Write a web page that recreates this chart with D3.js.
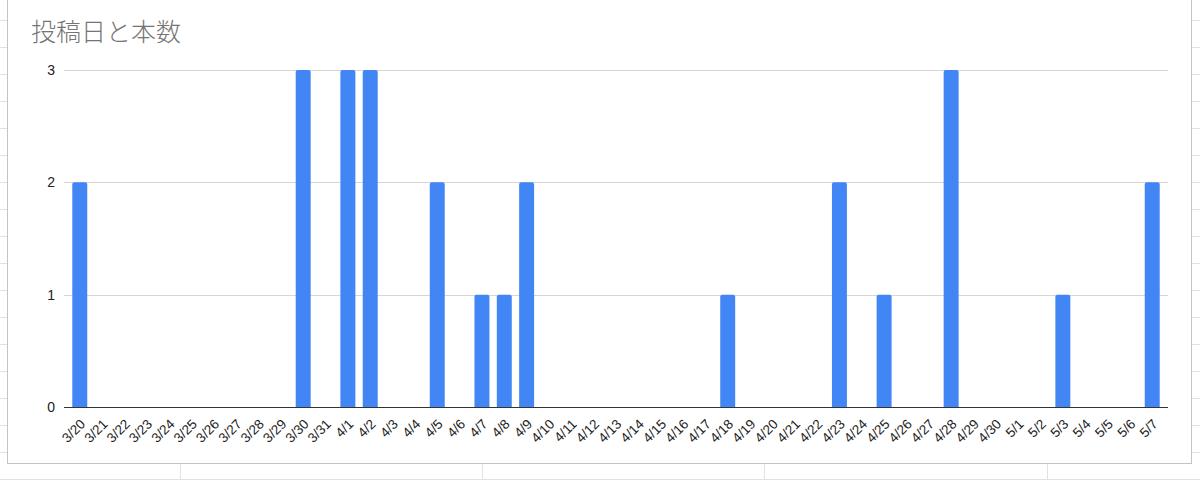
<!DOCTYPE html>
<html>
<head>
<meta charset="utf-8">
<script src="https://cdn.jsdelivr.net/npm/d3@7"></script>
<style>
  html, body { margin: 0; padding: 0; background: #fff; }
  svg { display: block; }
</style>
</head>
<body>
<svg id="chart" width="1200" height="480"></svg>
<script>
const title = "投稿日と本数";
const categories = ["3/20","3/21","3/22","3/23","3/24","3/25","3/26","3/27","3/28","3/29","3/30","3/31",
  "4/1","4/2","4/3","4/4","4/5","4/6","4/7","4/8","4/9","4/10","4/11","4/12","4/13","4/14","4/15","4/16",
  "4/17","4/18","4/19","4/20","4/21","4/22","4/23","4/24","4/25","4/26","4/27","4/28","4/29","4/30",
  "5/1","5/2","5/3","5/4","5/5","5/6","5/7"];
const counts = [2,0,0,0,0,0,0,0,0,0,3,0,
  3,3,0,0,2,0,1,1,2,0,0,0,0,0,0,0,
  0,1,0,0,0,0,2,0,1,0,0,3,0,0,
  0,0,1,0,0,0,2];
const yTicks = [0,1,2,3];

const svg = d3.select("#chart");
const W = 1200, H = 480;

// spreadsheet background grid
const sheet = svg.append("g");
const rowYs = d3.range(20, 480, 27);
sheet.selectAll("line.row").data(rowYs).join("line")
  .attr("x1", 0).attr("x2", W).attr("y1", d => d + 0.5).attr("y2", d => d + 0.5)
  .attr("stroke", "#e2e2e2").attr("stroke-width", 1);
const colXs = [180, 482, 764, 1047];
sheet.selectAll("line.col").data(colXs).join("line")
  .attr("x1", d => d + 0.5).attr("x2", d => d + 0.5).attr("y1", 0).attr("y2", H)
  .attr("stroke", "#e2e2e2").attr("stroke-width", 1);

// chart frame
svg.append("rect")
  .attr("x", 7.5).attr("y", -5).attr("width", 1184).attr("height", 468.5)
  .attr("fill", "#fff").attr("stroke", "#c4c4c4").attr("stroke-width", 1);

// title
svg.append("text")
  .attr("x", 31).attr("y", 41)
  .attr("font-family", "'Noto Sans CJK JP', sans-serif")
  .attr("font-size", 25)
  .attr("font-weight", 300)
  .attr("fill", "#757575")
  .text(title);

const x = d3.scaleBand().domain(categories).range([68.6, 1163.4]).paddingInner(0.33).paddingOuter(0.165);
const y = d3.scaleLinear().domain([0, 3]).range([407, 70]);

// gridlines
svg.append("g").selectAll("line").data(yTicks.filter(d => d > 0)).join("line")
  .attr("x1", 64).attr("x2", 1168)
  .attr("y1", d => Math.round(y(d)) + 0.5).attr("y2", d => Math.round(y(d)) + 0.5)
  .attr("stroke", "#d6d6d6").attr("stroke-width", 1);

// y labels
svg.append("g").selectAll("text").data(yTicks).join("text")
  .attr("x", 55).attr("y", d => y(d)).attr("dy", "0.35em")
  .attr("text-anchor", "end")
  .attr("font-family", "Arial, 'Liberation Sans', sans-serif")
  .attr("font-size", 14)
  .attr("fill", "#222")
  .text(d => d);

// bars with rounded top corners
const r = 2;
svg.append("g").selectAll("path").data(categories.map((c, i) => ({c, v: counts[i]})).filter(d => d.v > 0))
  .join("path")
  .attr("fill", "#4285f4")
  .attr("d", d => {
    const x0 = x(d.c), w = x.bandwidth(), y0 = y(d.v), yb = y(0);
    return `M${x0},${yb}V${y0 + r}Q${x0},${y0} ${x0 + r},${y0}H${x0 + w - r}Q${x0 + w},${y0} ${x0 + w},${y0 + r}V${yb}Z`;
  });

// baseline
svg.append("line")
  .attr("x1", 64).attr("x2", 1168).attr("y1", 407.5).attr("y2", 407.5)
  .attr("stroke", "#333").attr("stroke-width", 1.2);

// x labels
svg.append("g").selectAll("text").data(categories).join("text")
  .attr("transform", d => `translate(${x(d) + x.bandwidth() / 2 + 3},${421.5}) rotate(-45)`)
  .attr("text-anchor", "end")
  .attr("dy", "0.35em")
  .attr("font-family", "Arial, 'Liberation Sans', sans-serif")
  .attr("font-size", 13.5)
  .attr("fill", "#222")
  .text(d => d);
</script>
</body>
</html>
